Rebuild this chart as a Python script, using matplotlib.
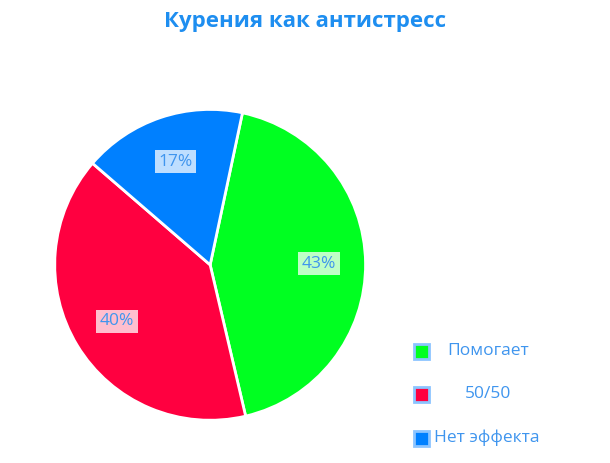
import matplotlib
matplotlib.use("Agg")
import matplotlib.pyplot as plt
from matplotlib.patches import Rectangle

categories = ["Помогает", "50/50", "Нет эффекта"]
values = [43, 40, 17]
colors = ["#00ff21", "#ff0040", "#0080ff"]
title = "Курения как антистресс"

plt.rcParams['font.family'] = ['Open Sans', 'DejaVu Sans']

fig = plt.figure(figsize=(6.10, 4.63), dpi=100)
fig.patch.set_facecolor("white")
ax = fig.add_axes([0.087, 0.089, 0.515, 0.678])

wedges, texts, autotexts = ax.pie(
    values, colors=colors, startangle=78, counterclock=False,
    autopct=lambda p: f"{p:.0f}%", pctdistance=0.70,
    wedgeprops=dict(edgecolor="white", linewidth=2),
    textprops=dict(color="#3f95ee", fontsize=12.5))
for t in autotexts:
    t.set_bbox(dict(facecolor="white", alpha=0.75, edgecolor="none", pad=2.5))
ax.set_xlim(-1.01, 1.01)
ax.set_ylim(-1.01, 1.01)
ax.set_aspect("equal")
ax.axis("off")

fig.text(0.5, 0.953, title, ha="center", va="center", fontsize=16,
         fontweight="bold", color="#1e8ef0")

# legend drawn manually
ys = [351, 394, 438]
for i, (lab, col) in enumerate(zip(categories, colors)):
    y = ys[i]
    sq = Rectangle(((414) / 610, (463 - y - 8) / 463), 15 / 610, 15 / 463,
                   transform=fig.transFigure, facecolor=col,
                   edgecolor="#8cc4ff", linewidth=2)
    fig.patches.append(sq)
    if i < 2:
        fig.text(488 / 610, (463 - y) / 463, lab, ha="center", va="center",
                 fontsize=12.5, color="#3f95ee")
    else:
        fig.text(434 / 610, (463 - y) / 463, lab, ha="left", va="center",
                 fontsize=12.5, color="#3f95ee")

fig.savefig("out.png", dpi=100)
